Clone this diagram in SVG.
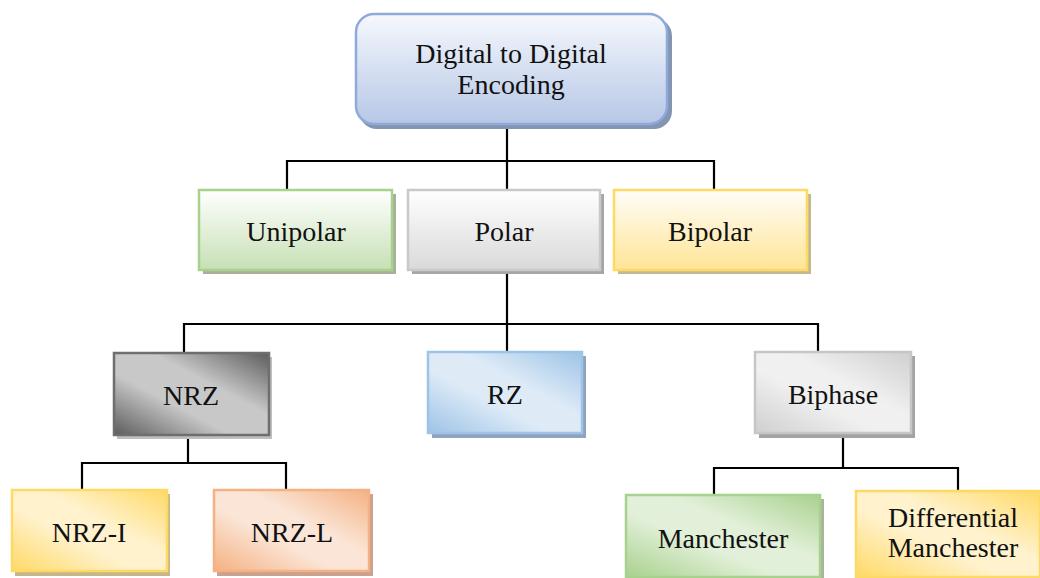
<svg xmlns="http://www.w3.org/2000/svg" width="1040" height="578" viewBox="0 0 1040 578">
<style>
text{font-family:"Liberation Serif","Times New Roman",serif;font-size:28px;fill:#111;text-anchor:middle}
.b{stroke-width:2.5}
.conn{fill:none;stroke:#000;stroke-width:2.2}
</style>
<defs>
<linearGradient id="gTop" x1="0" y1="0" x2="0" y2="1"><stop offset="0" stop-color="#f6f8fc"/><stop offset="1" stop-color="#b6c7e7"/></linearGradient>
<linearGradient id="gGreenV" x1="0" y1="0" x2="0" y2="1"><stop offset="0" stop-color="#ffffff"/><stop offset="1" stop-color="#c6e0b5"/></linearGradient>
<linearGradient id="gGrayV" x1="0" y1="0" x2="0" y2="1"><stop offset="0" stop-color="#ffffff"/><stop offset="1" stop-color="#d9d9d9"/></linearGradient>
<linearGradient id="gYellowV" x1="0" y1="0" x2="0" y2="1"><stop offset="0" stop-color="#fffdf8"/><stop offset="1" stop-color="#ffe597"/></linearGradient>
<linearGradient id="gNRZ" x1="1" y1="0" x2="0" y2="1"><stop offset="0" stop-color="#5c5c5c"/><stop offset="0.38" stop-color="#c8c8c8"/><stop offset="0.62" stop-color="#c8c8c8"/><stop offset="1" stop-color="#5c5c5c"/></linearGradient>
<linearGradient id="gRZ" x1="1" y1="0" x2="0" y2="1"><stop offset="0" stop-color="#9dc3e6"/><stop offset="0.4" stop-color="#deebf7"/><stop offset="0.6" stop-color="#deebf7"/><stop offset="1" stop-color="#9dc3e6"/></linearGradient>
<linearGradient id="gBiph" x1="1" y1="0" x2="0" y2="1"><stop offset="0" stop-color="#cfcfcf"/><stop offset="0.4" stop-color="#f0f0f0"/><stop offset="0.6" stop-color="#f0f0f0"/><stop offset="1" stop-color="#cfcfcf"/></linearGradient>
<linearGradient id="gYel" x1="1" y1="0" x2="0" y2="1"><stop offset="0" stop-color="#ffd966"/><stop offset="0.4" stop-color="#fff2cc"/><stop offset="0.6" stop-color="#fff2cc"/><stop offset="1" stop-color="#ffd966"/></linearGradient>
<linearGradient id="gOra" x1="1" y1="0" x2="0" y2="1"><stop offset="0" stop-color="#f4b183"/><stop offset="0.4" stop-color="#fbe5d6"/><stop offset="0.6" stop-color="#fbe5d6"/><stop offset="1" stop-color="#f4b183"/></linearGradient>
<linearGradient id="gGrn" x1="1" y1="0" x2="0" y2="1"><stop offset="0" stop-color="#a9d18e"/><stop offset="0.4" stop-color="#e2f0d9"/><stop offset="0.6" stop-color="#e2f0d9"/><stop offset="1" stop-color="#a9d18e"/></linearGradient>
</defs>

<g id="connectors">
<path class="conn" d="M507 124 V190 M287 190 V161 H714 V190"/>
<path class="conn" d="M507 270 V352 M184 353 V324 H818 V352"/>
<path class="conn" d="M188 435 V463 M82 490 V463 H286 V490"/>
<path class="conn" d="M843 433 V468 M714 495 V468 H958 V491"/>
</g>

<g id="node-root">
<rect x="359" y="18" width="313" height="111" rx="18" fill="#8495b2"/>
<rect class="b" x="356" y="14" width="311" height="110" rx="18" fill="url(#gTop)" stroke="#8eaadb"/>
<text x="511" y="63">Digital to Digital</text>
<text x="511" y="94">Encoding</text>
</g>

<g id="node-unipolar">
<rect x="203" y="194" width="193" height="80" fill="#a7b19a"/>
<rect class="b" x="199" y="190" width="193" height="80" fill="url(#gGreenV)" stroke="#a9d18e"/>
<text x="296" y="241">Unipolar</text>
</g>

<g id="node-polar">
<rect x="412" y="194" width="192" height="80" fill="#a6a6a6"/>
<rect class="b" x="408" y="190" width="192" height="80" fill="url(#gGrayV)" stroke="#c9c9c9"/>
<text x="504" y="241">Polar</text>
</g>

<g id="node-bipolar">
<rect x="618" y="194" width="193" height="80" fill="#c4b890"/>
<rect class="b" x="614" y="190" width="193" height="80" fill="url(#gYellowV)" stroke="#ffd966"/>
<text x="710" y="241">Bipolar</text>
</g>

<g id="node-nrz">
<rect x="117" y="357" width="155" height="82" fill="#bfbfbf"/>
<rect class="b" x="114" y="353" width="155" height="82" fill="url(#gNRZ)" stroke="#6e6e6e"/>
<text x="191" y="405">NRZ</text>
</g>

<g id="node-rz">
<rect x="432" y="356" width="154" height="82" fill="#8ea3bd"/>
<rect class="b" x="428" y="352" width="154" height="81" fill="url(#gRZ)" stroke="#9dc3e6"/>
<text x="505" y="404">RZ</text>
</g>

<g id="node-biphase">
<rect x="759" y="356" width="156" height="82" fill="#a3a3a3"/>
<rect class="b" x="755" y="352" width="156" height="81" fill="url(#gBiph)" stroke="#c6c6c6"/>
<text x="833" y="404">Biphase</text>
</g>

<g id="node-nrzi">
<rect x="15" y="494" width="155" height="82" fill="#c5b78a"/>
<rect class="b" x="12" y="490" width="155" height="81" fill="url(#gYel)" stroke="#ffd966"/>
<text x="89" y="542">NRZ-I</text>
</g>

<g id="node-nrzl">
<rect x="217" y="494" width="156" height="82" fill="#c9a18e"/>
<rect class="b" x="214" y="490" width="155" height="81" fill="url(#gOra)" stroke="#f4b183"/>
<text x="292" y="542">NRZ-L</text>
</g>

<g id="node-manchester">
<rect x="630" y="499" width="194" height="84" fill="#a9b49c"/>
<rect class="b" x="626" y="495" width="194" height="82" fill="url(#gGrn)" stroke="#a9d18e"/>
<text x="723" y="548">Manchester</text>
</g>

<g id="node-diffmanchester">
<rect x="860" y="495" width="184" height="88" fill="#c4b482"/>
<rect class="b" x="856" y="491" width="184" height="86" fill="url(#gYel)" stroke="#ffd966"/>
<text x="953" y="527">Differential</text>
<text x="953" y="557">Manchester</text>
</g>
</svg>
